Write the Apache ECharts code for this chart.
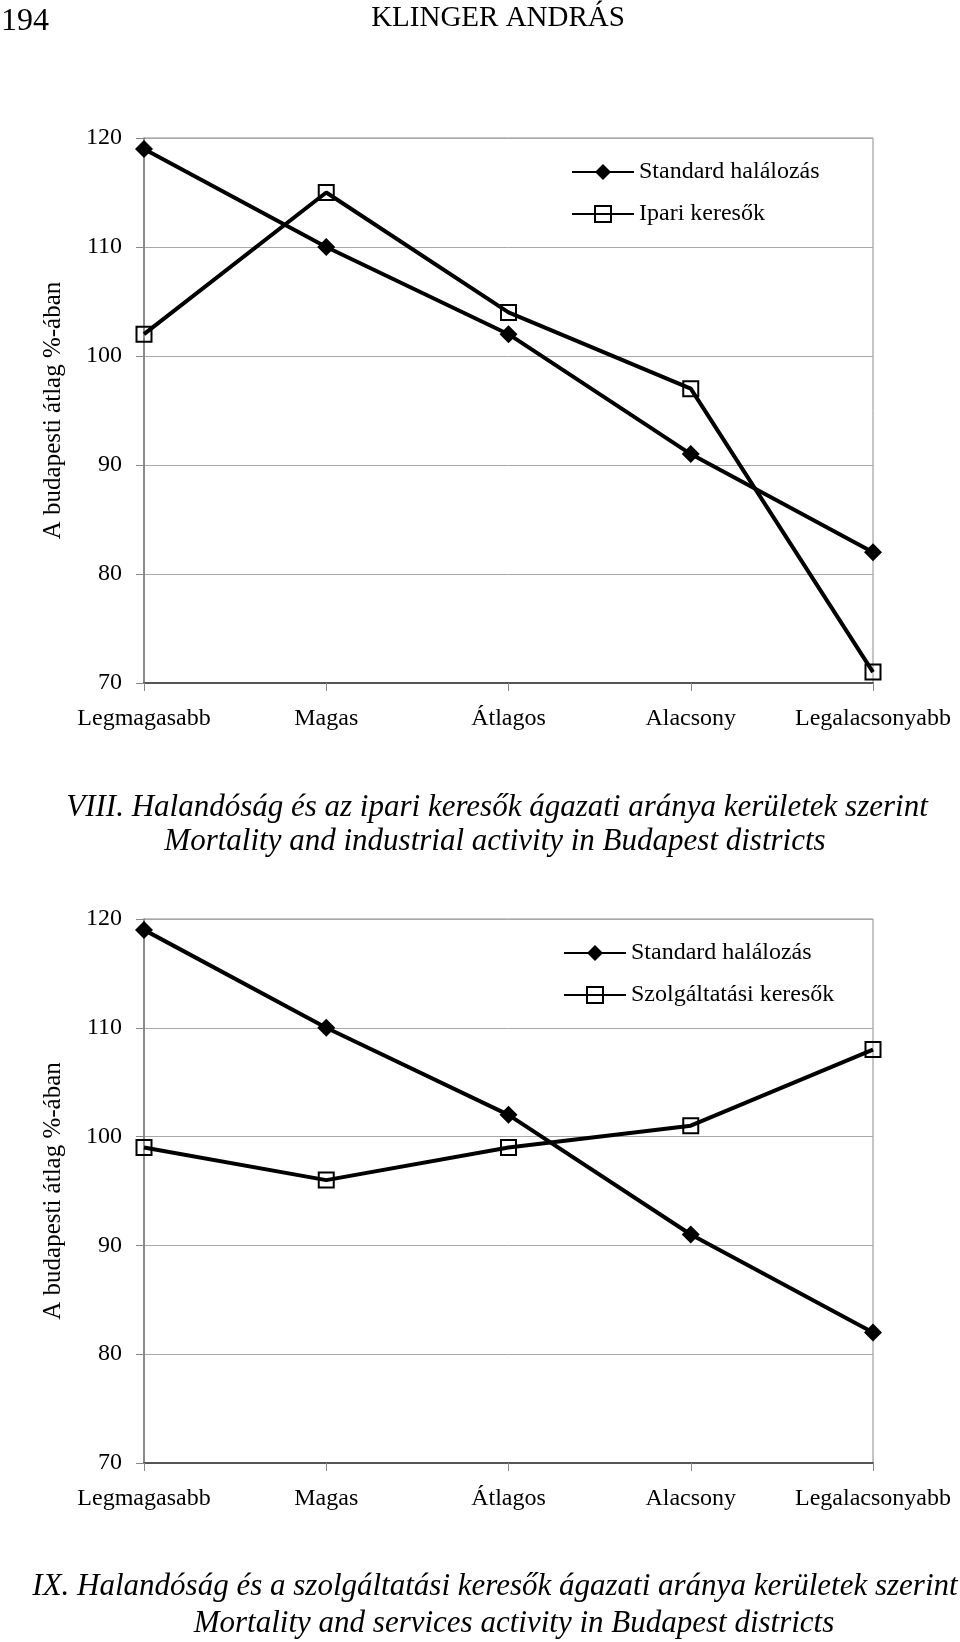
<!DOCTYPE html>
<html>
<head>
<meta charset="utf-8">
<script src="https://cdn.jsdelivr.net/npm/echarts@6/dist/echarts.min.js"></script>
<style>
html,body{margin:0;padding:0;background:#fff;}
#chart{width:960px;height:1642px;}
</style>
</head>
<body>
<div id="chart"></div>
<script>
// Data
const categories = ['Legmagasabb', 'Magas', 'Átlagos', 'Alacsony', 'Legalacsonyabb'];
const standardHalalozas = [119, 110, 102, 91, 82];
const ipariKeresok = [102, 115, 104, 97, 71];
const szolgaltatasiKeresok = [99, 96, 99, 101, 108];
const yTicks = [70, 80, 90, 100, 110, 120];
const seriesNames1 = ['Standard halálozás', 'Ipari keresők'];
const seriesNames2 = ['Standard halálozás', 'Szolgáltatási keresők'];
const pageNumber = '194';
const pageHeader = 'KLINGER ANDRÁS';
const yAxisTitle = 'A budapesti átlag %-ában';
const caption1 = ['VIII. Halandóság és az ipari keresők ágazati aránya kerületek szerint',
                  'Mortality and industrial activity in Budapest districts'];
const caption2 = ['IX. Halandóság és a szolgáltatási keresők ágazati aránya kerületek szerint',
                  'Mortality and services activity in Budapest districts'];

const FONT = '"Liberation Serif", "Times New Roman", serif';

const chart = echarts.init(document.getElementById('chart'), null, {renderer: 'canvas'});

function xAxisCfg(gridIndex) {
  return {
    type: 'category', gridIndex: gridIndex, data: categories, boundaryGap: false,
    axisLine: {show: true, lineStyle: {color: '#555', width: 2}},
    axisTick: {show: true, length: 8, lineStyle: {color: '#888', width: 1}},
    axisLabel: {color: '#000', fontFamily: FONT, fontSize: 24, margin: 24, interval: 0},
    splitLine: {show: false}
  };
}
function yAxisCfg(gridIndex) {
  return {
    type: 'value', gridIndex: gridIndex,
    min: yTicks[0], max: yTicks[yTicks.length - 1], interval: yTicks[1] - yTicks[0],
    name: yAxisTitle, nameLocation: 'middle', nameRotate: 90, nameGap: 78,
    nameTextStyle: {color: '#000', fontFamily: FONT, fontSize: 25},
    axisLine: {show: true, lineStyle: {color: '#777', width: 1.5}},
    axisTick: {show: true, length: 8, lineStyle: {color: '#888', width: 1}},
    axisLabel: {color: '#000', fontFamily: FONT, fontSize: 24, margin: 22},
    splitLine: {show: true, lineStyle: {color: '#a8a8a8', width: 1}}
  };
}
function diamondSeries(name, data, idx) {
  return {
    name: name, type: 'line', xAxisIndex: idx, yAxisIndex: idx, data: data,
    symbol: 'diamond', symbolSize: 18, showSymbol: true,
    lineStyle: {color: '#000', width: 4},
    itemStyle: {color: '#000', borderColor: '#000', borderWidth: 0},
    emphasis: {disabled: true}, animation: false
  };
}
function squareSeries(name, data, idx) {
  return {
    name: name, type: 'line', xAxisIndex: idx, yAxisIndex: idx, data: data,
    symbol: 'rect', symbolSize: 15, showSymbol: true,
    lineStyle: {color: '#000', width: 4},
    itemStyle: {color: 'rgba(255,255,255,0)', borderColor: '#000', borderWidth: 2},
    emphasis: {disabled: true}, animation: false
  };
}
function legendCfg(names, left, top) {
  return {
    orient: 'vertical', left: left, top: top, padding: 0,
    itemWidth: 62, itemHeight: 20, itemGap: 18, selectedMode: false,
    textStyle: {color: '#000', fontFamily: FONT, fontSize: 24},
    data: names
  };
}
function textEl(text, x, y, font, align) {
  return {type: 'text', x: x, y: y, silent: true,
    style: {text: text, fill: '#000', font: font, textAlign: align || 'center', textVerticalAlign: 'middle'}};
}

const option = {
  animation: false,
  backgroundColor: '#fff',
  grid: [
    {left: 144, top: 138, width: 729, height: 545, show: true, borderColor: '#8c8c8c', borderWidth: 1, backgroundColor: 'transparent'},
    {left: 144, top: 919, width: 729, height: 544, show: true, borderColor: '#8c8c8c', borderWidth: 1, backgroundColor: 'transparent'}
  ],
  xAxis: [xAxisCfg(0), xAxisCfg(1)],
  yAxis: [yAxisCfg(0), yAxisCfg(1)],
  legend: [legendCfg(seriesNames1, 571, 160), legendCfg(seriesNames2, 563, 941)],
  series: [
    diamondSeries(seriesNames1[0], standardHalalozas, 0),
    squareSeries(seriesNames1[1], ipariKeresok, 0),
    diamondSeries(seriesNames2[0], standardHalalozas, 1),
    squareSeries(seriesNames2[1], szolgaltatasiKeresok, 1)
  ],
  graphic: [
    textEl(pageNumber, 1, 22, '32px ' + FONT, 'left'),
    textEl(pageHeader, 498, 18, '29px ' + FONT, 'center'),
    textEl(caption1[0], 497, 808, 'italic 31px ' + FONT, 'center'),
    textEl(caption1[1], 495, 842, 'italic 31px ' + FONT, 'center'),
    textEl(caption2[0], 495, 1587, 'italic 31px ' + FONT, 'center'),
    textEl(caption2[1], 514, 1624, 'italic 31px ' + FONT, 'center')
  ]
};
chart.setOption(option);
</script>
</body>
</html>
